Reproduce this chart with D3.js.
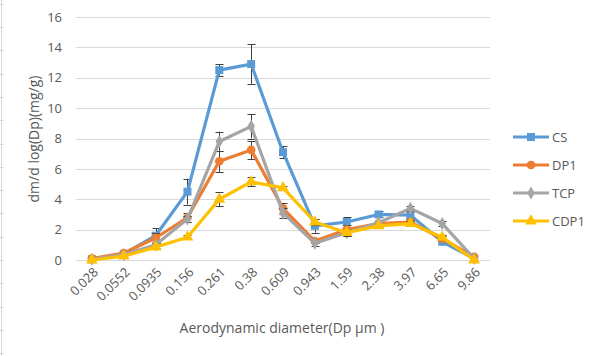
<!DOCTYPE html>
<html><head><meta charset="utf-8">
<script src="https://cdn.jsdelivr.net/npm/d3@7"></script>
<style>body{margin:0;background:#fff}svg{display:block}</style>
</head><body>
<svg id="c" width="600" height="356"></svg>
<script>
const categories = ["0.028","0.0552","0.0935","0.156","0.261","0.38","0.609","0.943","1.59","2.38","3.97","6.65","9.86"];
const csValues   = [0.05,0.4,1.6,4.5,12.5,12.9,7.1,2.25,2.5,3.0,2.95,1.2,0.1];
const csErr      = [0.05,0.1,0.5,0.85,0.4,1.3,0.4,0.45,0.3,0.2,0.2,0.1,0.05];
const dp1Values  = [0.1,0.45,1.45,2.8,6.5,7.25,3.4,1.25,2.0,2.4,2.5,1.4,0.2];
const dp1Err     = [0.05,0.1,0.3,0.3,0.7,0.6,0.35,0.15,0.3,0.2,0.2,0.15,0.05];
const tcpValues  = [0.05,0.35,1.0,2.7,7.8,8.8,3.1,1.1,1.8,2.45,3.4,2.4,0.1];
const tcpErr     = [0.05,0.1,0.2,0.2,0.65,0.8,0.35,0.15,0.2,0.15,0.15,0.15,0.05];
const cdp1Values = [0.0,0.25,0.85,1.5,4.0,5.15,4.75,2.5,1.8,2.25,2.4,1.5,0.0];
const cdp1Err    = [0.05,0.1,0.1,0.15,0.45,0.3,0.15,0.2,0.2,0.15,0.15,0.15,0.05];
const yTicks = [0,2,4,6,8,10,12,14,16];
const seriesNames = ["CS","DP1","TCP","CDP1"];

const series = [
  {name:"CS", values:csValues, err:csErr, color:"#5b9bd5", shape:"square"},
  {name:"DP1", values:dp1Values, err:dp1Err, color:"#ed7d31", shape:"circle"},
  {name:"TCP", values:tcpValues, err:tcpErr, color:"#a5a5a5", shape:"diamond"},
  {name:"CDP1", values:cdp1Values, err:cdp1Err, color:"#ffc000", shape:"triangle"}
];

const FONT = "'Open Sans', 'Noto Sans', sans-serif";
const svg = d3.select("#c");
const L=76, R=490, T=17, B=260;
const x = d3.scaleBand().domain(categories).range([L,R]);
const y = d3.scaleLinear().domain([0,16]).range([B,T]);
const cx = c => x(c)+x.bandwidth()/2;

// sheet edge artifact
svg.append("line").attr("x1",1.5).attr("x2",1.5).attr("y1",0).attr("y2",356).attr("stroke","#d9d9d9");
d3.range(3.7,356,23.3).forEach(v=>svg.append("line").attr("x1",0).attr("x2",4).attr("y1",Math.round(v)+0.5).attr("y2",Math.round(v)+0.5).attr("stroke","#d9d9d9"));

// gridlines
svg.append("g").selectAll("line").data(yTicks).join("line")
  .attr("x1",L).attr("x2",R).attr("y1",d=>Math.round(y(d))+0.5).attr("y2",d=>Math.round(y(d))+0.5)
  .attr("stroke","#d9d9d9").attr("stroke-width",1);

// y axis labels
const yAxis = d3.axisLeft(y).tickValues(yTicks).tickSize(0).tickPadding(0);
const gy = svg.append("g").attr("transform",`translate(${L-14},0)`).call(yAxis);
gy.select(".domain").remove();
gy.selectAll("text").attr("font-family",FONT).attr("font-size",13).attr("fill","#595959");

// x axis labels
const xAxis = d3.axisBottom(x).tickSize(0).tickPadding(0);
const gx = svg.append("g").attr("transform",`translate(0,${B})`).call(xAxis);
gx.select(".domain").remove();
gx.selectAll("text").attr("font-family",FONT).attr("font-size",13).attr("fill","#595959")
  .attr("text-anchor","end").attr("dy",0).attr("y",0)
  .attr("transform","translate(7,13) rotate(-45)");

// titles
svg.append("text").attr("transform","translate(39,139) rotate(-90)").attr("text-anchor","middle")
  .attr("font-family",FONT).attr("font-size",14).attr("fill","#595959")
  .text("dm/d log(Dp)(mg/g)");
svg.append("text").attr("x",282).attr("y",333).attr("text-anchor","middle")
  .attr("font-family",FONT).attr("font-size",14).attr("fill","#595959")
  .text("Aerodynamic diameter(Dp μm )");

const sym = {square:d3.symbolSquare, circle:d3.symbolCircle, diamond:d3.symbolDiamond, triangle:d3.symbolTriangle};
const symSize = {square:64, circle:60, diamond:50, triangle:60};
const line = d3.line().x((d,i)=>cx(categories[i])).y(d=>y(d));

series.forEach(s=>{
  const g = svg.append("g");
  const eb = g.append("g").attr("stroke","#404040").attr("stroke-width",1);
  s.values.forEach((v,i)=>{
    const X=Math.round(cx(categories[i])), e=s.err[i];
    if(e<0.12) return;
    eb.append("line").attr("x1",X+0.5).attr("x2",X+0.5).attr("y1",y(v+e)).attr("y2",y(v-e));
    eb.append("line").attr("x1",X-3.5).attr("x2",X+4.5).attr("y1",Math.round(y(v+e))+0.5).attr("y2",Math.round(y(v+e))+0.5);
    eb.append("line").attr("x1",X-3.5).attr("x2",X+4.5).attr("y1",Math.round(y(v-e))+0.5).attr("y2",Math.round(y(v-e))+0.5);
  });
  g.append("path").attr("d",line(s.values)).attr("fill","none").attr("stroke",s.color).attr("stroke-width",3.2).attr("stroke-linejoin","round");
  g.selectAll("path.m").data(s.values).join("path").attr("class","m")
    .attr("d",d3.symbol(sym[s.shape],symSize[s.shape]))
    .attr("transform",(d,i)=>`translate(${cx(categories[i])},${y(d)})`)
    .attr("fill",s.color);
});

// legend
const leg = svg.append("g");
series.forEach((s,i)=>{
  const ly = 137 + i*28;
  leg.append("line").attr("x1",513).attr("x2",549).attr("y1",ly).attr("y2",ly).attr("stroke",s.color).attr("stroke-width",3.2);
  leg.append("path").attr("d",d3.symbol(sym[s.shape],symSize[s.shape])).attr("transform",`translate(531,${ly})`).attr("fill",s.color);
  leg.append("text").attr("x",552).attr("y",ly+5).attr("font-family",FONT)
    .attr("font-size",13).attr("fill","#595959").text(seriesNames[i]);
});
</script>
</body></html>
